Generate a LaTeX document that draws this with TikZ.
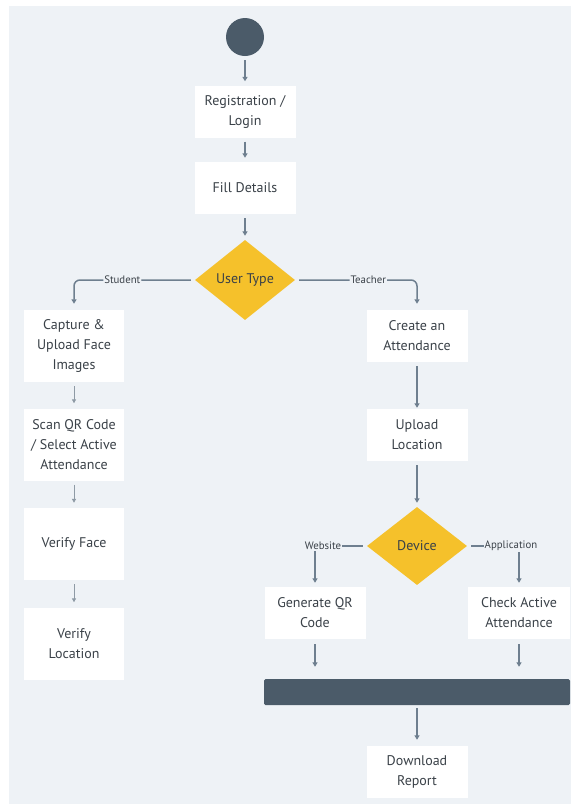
\documentclass[tikz,border=0pt]{standalone}
\usepackage{fontspec}
\setmainfont{PT Sans}
\usetikzlibrary{shapes.geometric,arrows.meta}
\definecolor{bgc}{HTML}{EEF2F6}
\definecolor{slate}{HTML}{4B5B69}
\definecolor{linec}{HTML}{6E7F8F}
\definecolor{lightc}{HTML}{8E9AA5}
\definecolor{gold}{HTML}{F5C12B}
\definecolor{ink}{HTML}{3A4148}

\begin{document}
\begin{tikzpicture}[x=1pt, y=-1pt, text=ink,
    font=\fontsize{14}{20}\selectfont,
    box/.style={fill=white, minimum width=101pt, minimum height=52pt, align=center, inner sep=0pt},
    tallbox/.style={box, minimum width=100pt, minimum height=72pt},
    decision/.style={diamond, fill=gold, minimum width=100pt, minimum height=80pt, inner sep=0pt},
    arr/.style={draw=linec, line width=1.5pt, -{Triangle[length=4.5pt,width=5pt]}, shorten <=4pt, shorten >=4pt},
    thinarr/.style={draw=lightc, line width=1pt, -{Triangle[length=4pt,width=4pt]}, shorten <=4pt, shorten >=5pt},
    lbl/.style={fill=bgc, inner sep=1pt, font=\fontsize{10.8}{12}\selectfont}]
        % background
        \useasboundingbox (0,0) rectangle (571,804);
        \fill[bgc] (9,6) rectangle (571,804);

        % main path
        \node[circle, fill=slate, minimum size=38pt, inner sep=0pt] (start) at (245,37) {};
        \node[box] (reg) at (245,111.5) {Registration /\\Login};
        \node[box] (fill) at (245,188) {Fill Details};
        \node[decision] (usertype) at (245,280) {User Type};

        % student column
        \node[tallbox] (capture) at (74,346) {Capture \&\\Upload Face\\Images};
        \node[tallbox] (scan) at (74,444.5) {Scan QR Code\\/ Select Active\\Attendance};
        \node[tallbox] (vface) at (74,544) {Verify Face};
        \node[tallbox] (vloc) at (74,643.5) {Verify\\Location};

        % teacher column
        \node[box] (create) at (417,336) {Create an\\Attendance};
        \node[box] (upload) at (417,435) {Upload\\Location};
        \node[decision, minimum height=78pt] (device) at (417,546) {Device};
        \node[box] (genqr) at (315,613) {Generate QR\\Code};
        \node[box, minimum width=102pt] (check) at (519,613) {Check Active\\Attendance};
        \node[fill=slate, rounded corners=1.5pt, minimum width=306pt, minimum height=26pt, inner sep=0pt] (bar) at (417,692) {};
        \node[box] (download) at (417,772) {Download\\Report};

        % connectors
        \foreach \a/\b in {start/reg, reg/fill, fill/usertype, upload/device}
            \draw[arr] (\a) -- (\b);
        \foreach \a/\b in {capture/scan, scan/vface, vface/vloc}
            \draw[thinarr] (\a) -- (\b);
        \draw[arr, shorten >=1pt] (create) -- (upload);
        \draw[arr, rounded corners=6pt, shorten >=6pt] (usertype.west) -| node[lbl, pos=0.3] {Student} (capture.north);
        \draw[arr, rounded corners=6pt, shorten >=6pt] (usertype.east) -| node[lbl, pos=0.3] {Teacher} (create.north);
        \draw[arr] (device.west) -| node[lbl, pos=0.5, xshift=8pt] {Website} (genqr.north);
        \draw[arr] (device.east) -| node[lbl, pos=0.5, xshift=-8pt] {Application} (check.north);
        \foreach \a in {genqr, check}
            \draw[arr, shorten <=5pt, shorten >=12pt] (\a) -- (\a.south |- bar.north);
        \draw[arr, shorten <=3pt, shorten >=6pt] (bar) -- (download);
\end{tikzpicture}
\end{document}
